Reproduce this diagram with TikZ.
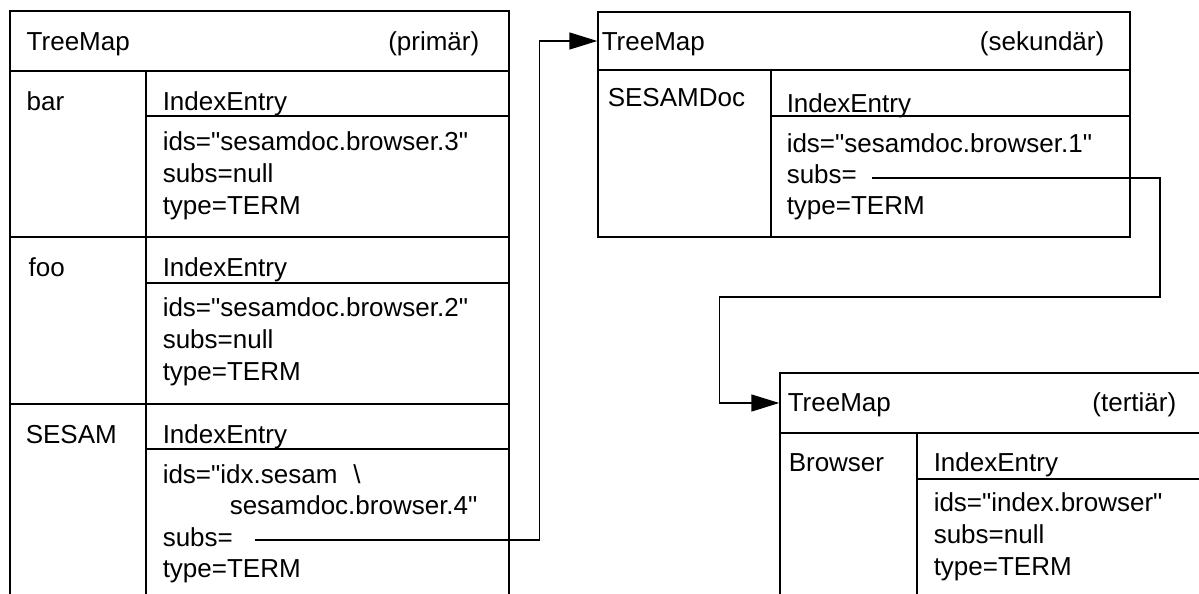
\documentclass[tikz,border=0pt]{standalone}
\usepackage{fontspec}
\setmainfont{Liberation Sans}[Ligatures=TeXOff]
\usetikzlibrary{arrows.meta,fit}
\tikzset{
    head/.style = {
        draw,
        shape=rectangle,
        inner sep=0pt,
        line width=0.75pt
    },
    field/.style = {
        anchor=base west,
        inner sep=0pt,
        font=\fontsize{13}{16}\selectfont
    },
    kind/.style = {
        field,
        anchor=base east
    },
    >={Triangle[length=14pt,width=8.5pt]},
}

\begin{document}
\begin{tikzpicture}[x=0.5pt, y=-0.5pt, line width=0.75pt]
    \clip (0,0) rectangle (1199,594);

    % primaer
    \node[head, fit={(10,11) (509,71)}] (primHead) {};
    \draw (10,71) -- (10,600) (509,71) -- (509,600) (146,71) -- (146,600);
    \draw (146,116) -- (509,116) (10,237) -- (509,237);
    \draw (146,283) -- (509,283) (10,404) -- (509,404);
    \draw (146,449) -- (509,449);
    \node[field] (primName) at (26,50) {TreeMap};
    \node[kind] (primKind) at (480,50) {(primär)};

    \node[field] (barKey) at (26,110) {bar};
    \node[field] (barEntry) at (162,110) {IndexEntry};
    \node[field] (barIds) at (162,150) {ids="sesamdoc.browser.3"};
    \node[field] (barSubs) at (162,182) {subs=null};
    \node[field] (barType) at (162,214) {type=TERM};

    \node[field] (fooKey) at (28,276) {foo};
    \node[field] (fooEntry) at (162,276) {IndexEntry};
    \node[field] (fooIds) at (162,316) {ids="sesamdoc.browser.2"};
    \node[field] (fooSubs) at (162,348) {subs=null};
    \node[field] (fooType) at (162,380) {type=TERM};

    \node[field] (sesamKey) at (25,443) {SESAM};
    \node[field] (sesamEntry) at (162,443) {IndexEntry};
    \node[field] (sesamIds) at (162,483) {ids="idx.sesam\hspace{8pt}\textbackslash};
    \node[field] (sesamIdsMore) at (229,514) {sesamdoc.browser.4"};
    \node[field] (sesamSubs) at (162,546) {subs=};
    \node[field] (sesamType) at (162,577) {type=TERM};

    % sekundaer
    \node[head, fit={(598,12) (1130,70)}] (secHead) {};
    \draw (598,70) -- (598,237) -- (1130,237) -- (1130,70);
    \draw (771,70) -- (771,237) (771,116) -- (1130,116);
    \node[field] (secName) at (601,50) {TreeMap};
    \node[kind] (secKind) at (1105,50) {(sekundär)};
    \node[field] (docKey) at (607,106) {SESAMDoc};
    \node[field] (docEntry) at (786,112) {IndexEntry};
    \node[field] (docIds) at (786,152) {ids="sesamdoc.browser.1"};
    \node[field] (docSubs) at (786,183) {subs=};
    \node[field] (docType) at (786,214) {type=TERM};

    % tertiaer
    \node[head, fit={(780,373) (1230,433)}] (terHead) {};
    \draw (780,433) -- (780,600) (917,433) -- (917,600) (917,479) -- (1230,479);
    \node[field] (terName) at (787,411) {TreeMap};
    \node[kind] (terKind) at (1177,411) {(tertiär)};
    \node[field] (browserKey) at (788,471) {Browser};
    \node[field] (browserEntry) at (933,471) {IndexEntry};
    \node[field] (browserIds) at (933,511) {ids="index.browser"};
    \node[field] (browserSubs) at (933,543) {subs=null};
    \node[field] (browserType) at (933,575) {type=TERM};

    % Verweise
    \coordinate (sesamLink) at (255,540);
    \coordinate (docLink) at (872,178);
    \path[draw, ->] (sesamLink) -| ([xshift=-29pt]secHead.west) -- (secHead.west);
    \path[draw, ->] (docLink) -| ++(288,119) -| ([xshift=-30pt]terHead.west) -- (terHead.west);
\end{tikzpicture}
\end{document}
